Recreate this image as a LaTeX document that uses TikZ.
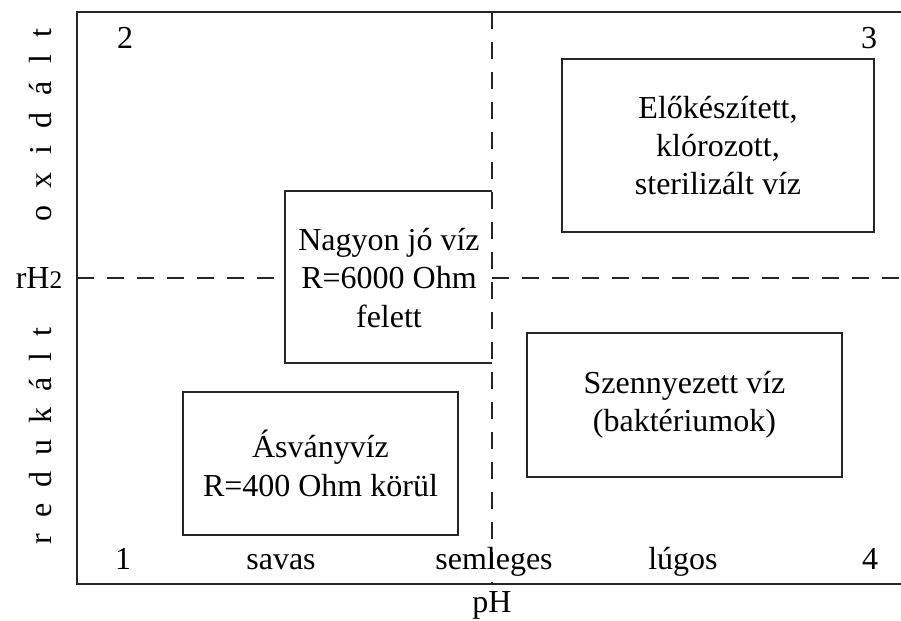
\documentclass[tikz,border=0pt]{standalone}
\usepackage{fontspec}
\setmainfont{Liberation Serif}
\begin{document}
\begin{tikzpicture}[x=0.75pt,y=-0.75pt,
  font=\fontsize{24}{28.8}\selectfont,
  frameline/.style={line width=1.4pt, draw=black!85},
  dashline/.style={line width=1.3pt, draw=black!85, dash pattern=on 12.5pt off 10pt},
  boxline/.style={line width=1.3pt, draw=black!85},
  boxnode/.style={boxline, align=center, inner sep=0pt},
  lbl/.style={inner sep=0pt, align=center},
  baselbl/.style={inner sep=0pt, anchor=base},
  side/.style={inner sep=0pt, rotate=90}]
\useasboundingbox (0,0) rectangle (901,621);
% frame corners
\coordinate (tl) at (77,12);
\coordinate (tr) at (901,12);
\coordinate (bl) at (77,584);
\coordinate (br) at (901,584);
\coordinate (vt) at (492,12);
\coordinate (vb) at (492,584);
\coordinate (hl) at (77,278);
\coordinate (hr) at (901,278);
% open box (Nagyon)
\coordinate (n1) at (492,191);
\coordinate (n2) at (285,191);
\coordinate (n3) at (285,363);
\coordinate (n4) at (492,363);
\coordinate (hm1) at (285,278);
\coordinate (hm2) at (492,278);
% dashed axes
\draw[dashline] (vt) -- (vb);
\draw[dashline] (hl) -- (hm1);
\draw[dashline] (hm2) -- (hr);
% frame
\draw[frameline] (tr) -- (tl) -- (bl) -- (br);
\draw[boxline] (n1) -- (n2) -- (n3) -- (n4);
\node[lbl] (good) at (389,278) {Nagyon jó víz\\R=6000 Ohm\\felett};
% boxes
\node[boxnode, minimum width=234pt, minimum height=129.75pt] (prep) at (718,145.5)
  {Előkészített,\\klórozott,\\sterilizált víz};
\node[boxnode, minimum width=236.25pt, minimum height=108pt] (dirty) at (684.5,405)
  {Szennyezett víz\\(baktériumok)};
\node[boxnode, minimum width=206.25pt, minimum height=107.25pt] (mineral) at (320.5,463.5)
  {Ásványvíz\\R=400 Ohm körül};
% corner numbers
\node[baselbl] (q2) at (125,48) {2};
\node[baselbl] (q3) at (869,48) {3};
\node[baselbl] (q1) at (123,569) {1};
\node[baselbl] (q4) at (870,569) {4};
% bottom labels
\node[baselbl] (acid) at (281,569) {savas};
\node[baselbl] (neutral) at (494,569) {semleges};
\node[baselbl] (alkali) at (683,569) {lúgos};
\node[baselbl] (ph) at (492,612) {pH};
% left labels
\node[lbl] (rh) at (39,278) {rH{\fontsize{19}{21}\selectfont 2}};
\node[side] (ox) at (41,125) {o\hspace{13pt}x\hspace{13pt}i\hspace{13pt}d\hspace{13pt}á\hspace{13pt}l\hspace{13pt}t};
\node[side] (red) at (41,436) {r\hspace{12pt}e\hspace{12pt}d\hspace{12pt}u\hspace{12pt}k\hspace{12pt}á\hspace{12pt}l\hspace{12pt}t};
\end{tikzpicture}
\end{document}
